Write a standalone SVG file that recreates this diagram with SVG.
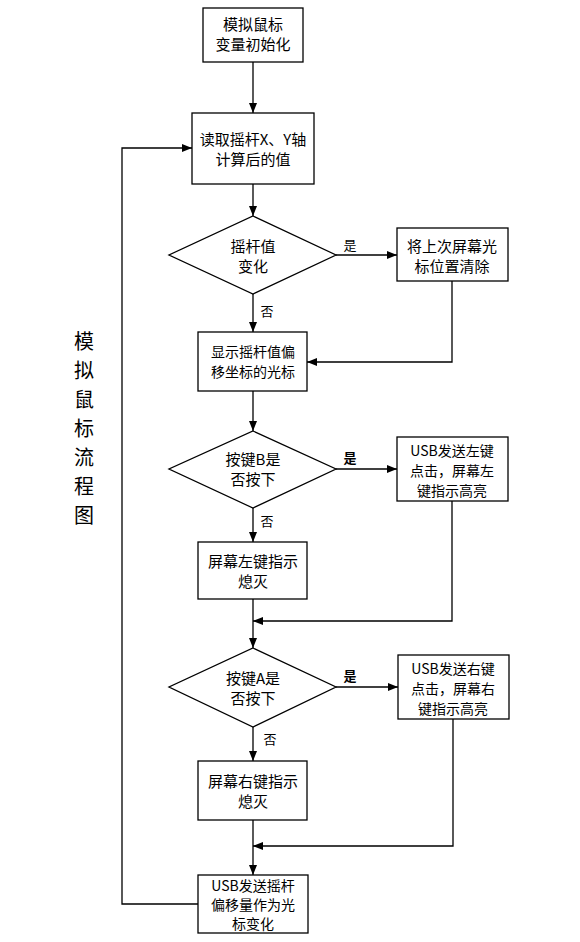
<svg xmlns="http://www.w3.org/2000/svg" width="580" height="942" viewBox="0 0 580 942">
<style>
.n rect,.n polygon{fill:#fff;stroke:#000;stroke-width:1.3}
text{font-family:"Noto Sans CJK SC","Microsoft YaHei",sans-serif;font-size:15px;fill:#000;text-anchor:middle}
.t{font-size:14px}
.lbl{font-size:13px}
.b{font-weight:bold}
.c path{fill:none;stroke:#000;stroke-width:1.3}
.title{font-size:20px}
</style>
<defs>
<marker id="a" markerWidth="10" markerHeight="8" refX="10" refY="4" orient="auto" markerUnits="userSpaceOnUse">
<path d="M0,0 L10,4 L0,8 Z" fill="#000"/>
</marker>
</defs>
<rect width="580" height="942" fill="#fff"/>
<g class="c">
<path d="M253,62 V113" marker-end="url(#a)"/>
<path d="M253,184 V216" marker-end="url(#a)"/>
<path d="M336,255 H397" marker-end="url(#a)"/>
<path d="M253,294 V332" marker-end="url(#a)"/>
<path d="M452,281 V362 H307" marker-end="url(#a)"/>
<path d="M253,391 V431" marker-end="url(#a)"/>
<path d="M336,469 H397" marker-end="url(#a)"/>
<path d="M253,508 V542" marker-end="url(#a)"/>
<path d="M452,501 V621 H253" marker-end="url(#a)"/>
<path d="M253,599 V648" marker-end="url(#a)"/>
<path d="M336,687 H398" marker-end="url(#a)"/>
<path d="M253,727 V761" marker-end="url(#a)"/>
<path d="M453,719 V846 H253" marker-end="url(#a)"/>
<path d="M253,820 V875" marker-end="url(#a)"/>
<path d="M198,904 H122 V148 H192" marker-end="url(#a)"/>
</g>
<g id="n1" class="n"><rect x="203" y="8" width="100" height="54"/><text x="253" y="30">模拟鼠标</text><text x="253" y="50">变量初始化</text></g>
<g id="n2" class="n"><rect x="192" y="113" width="122" height="71"/><text x="253" y="145">读取摇杆X、Y轴</text><text x="253" y="165">计算后的值</text></g>
<g id="d1" class="n"><polygon points="253,216 336,255 253,294 169,255"/><text x="253" y="252">摇杆值</text><text x="253" y="272">变化</text></g>
<g id="n3" class="n"><rect x="397" y="228" width="111" height="53"/><text x="452" y="252">将上次屏幕光</text><text x="452" y="272">标位置清除</text></g>
<g id="n4" class="n"><rect x="198" y="332" width="109" height="59"/><text class="t" x="253" y="357">显示摇杆值偏</text><text class="t" x="253" y="377">移坐标的光标</text></g>
<g id="d2" class="n"><polygon points="253,431 336,469 253,508 169,469"/><text x="253" y="465">按键B是</text><text x="253" y="485">否按下</text></g>
<g id="n5" class="n"><rect x="397" y="437" width="111" height="64"/><text class="t" x="452" y="456">USB发送左键</text><text class="t" x="452" y="476">点击，屏幕左</text><text class="t" x="452" y="496">键指示高亮</text></g>
<g id="n6" class="n"><rect x="198" y="542" width="109" height="57"/><text x="253" y="567">屏幕左键指示</text><text x="253" y="587">熄灭</text></g>
<g id="d3" class="n"><polygon points="253,648 336,687 253,727 169,687"/><text x="253" y="684">按键A是</text><text x="253" y="704">否按下</text></g>
<g id="n7" class="n"><rect x="398" y="655" width="111" height="64"/><text class="t" x="453" y="674">USB发送右键</text><text class="t" x="453" y="694">点击，屏幕右</text><text class="t" x="453" y="714">键指示高亮</text></g>
<g id="n8" class="n"><rect x="198" y="761" width="109" height="59"/><text x="253" y="787">屏幕右键指示</text><text x="253" y="807">熄灭</text></g>
<g id="n9" class="n"><rect x="198" y="875" width="110" height="58"/><text class="t" x="253" y="891">USB发送摇杆</text><text class="t" x="253" y="910">偏移量作为光</text><text class="t" x="253" y="929">标变化</text></g>
<g id="labels">
<text class="lbl" x="350" y="250">是</text>
<text class="lbl" x="267" y="316">否</text>
<text class="lbl b" x="350" y="463">是</text>
<text class="lbl" x="267" y="526">否</text>
<text class="lbl b" x="350" y="681">是</text>
<text class="lbl" x="270" y="744">否</text>
</g>
<g id="title">
<text class="title" x="84" y="349">模</text>
<text class="title" x="84" y="378">拟</text>
<text class="title" x="84" y="407">鼠</text>
<text class="title" x="84" y="436">标</text>
<text class="title" x="84" y="465">流</text>
<text class="title" x="84" y="494">程</text>
<text class="title" x="84" y="523">图</text>
</g>
</svg>
